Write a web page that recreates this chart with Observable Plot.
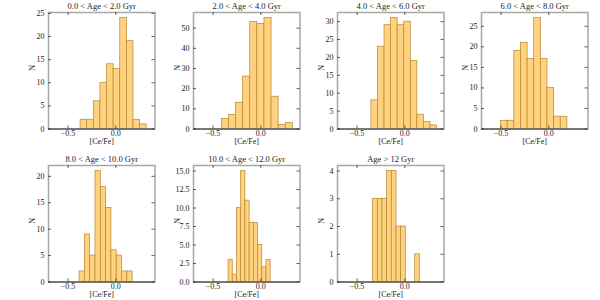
<!DOCTYPE html>
<html><head><meta charset="utf-8">
<script src="https://cdn.jsdelivr.net/npm/d3@7"></script>
<script src="https://cdn.jsdelivr.net/npm/@observablehq/plot@0.6"></script>
<style>
body{margin:0;background:#fff}
#chart{position:relative;width:600px;height:300px;overflow:hidden;background:#fff}
#chart svg{position:absolute}
</style></head><body><div id="chart"></div>
<script>
const titles = ["0.0 < Age < 2.0 Gyr", "2.0 < Age < 4.0 Gyr", "4.0 < Age < 6.0 Gyr", "6.0 < Age < 8.0 Gyr",
                "8.0 < Age < 10.0 Gyr", "10.0 < Age < 12.0 Gyr", "Age > 12 Gyr"];
const binStarts = [-0.369, -0.408, -0.350, -0.500, -0.380, -0.338, -0.332];
const binWidths = [0.0692, 0.0743, 0.0687, 0.0694, 0.0556, 0.0441, 0.0489];
const counts0 = [2, 2, 6, 10, 14, 13, 24, 19, 2, 1];
const counts1 = [5, 7, 13, 26, 53, 52, 55, 16, 2, 3];
const counts2 = [8, 23, 29, 31, 29, 30, 19, 4, 2, 1];
const counts3 = [2, 2, 19, 21, 17, 27, 17, 10, 3, 3];
const counts4 = [2, 9, 5, 21, 18, 14, 6, 5, 2, 2];
const counts5 = [3, 1, 10, 15, 11, 8, 8, 5, 2, 3];
const counts6 = [3, 3, 3, 4, 4, 2, 2, 0, 0, 1];
const allCounts = [counts0, counts1, counts2, counts3, counts4, counts5, counts6];
const yTicks = [[0,5,10,15,20,25],[0,10,20,30,40,50],[0,5,10,15,20,25,30],[0,5,10,15,20,25],
                [0,5,10,15,20],[0,2.5,5,7.5,10,12.5,15],[0,1,2,3,4]];
const xTicks = [-0.5, 0.0];
const xLabel = "[Ce/Fe]";
const yLabel = "N";
const xDomain = [-0.705, 0.41];

const frameLefts = [48, 193, 337, 481, 48, 193, 337];
const frameTops = [12, 12, 12, 12, 165, 165, 165];
const ML = 34, MR = 6, MT = 14, MB = 22, FW = 106.5, FH = 116.5;

const chart = document.getElementById("chart");
allCounts.forEach((c, p) => {
  const bins = c.map((n, i) => ({x1: binStarts[p] + i * binWidths[p], x2: binStarts[p] + (i + 1) * binWidths[p], y1: 0, y2: n}));
  const yt = yTicks[p];
  const fmtY = p === 5 ? d3.format(".1f") : d3.format("d");
  const svg = Plot.plot({
    width: ML + FW + MR, height: MT + FH + MB,
    marginLeft: ML, marginRight: MR, marginTop: MT, marginBottom: MB,
    style: {fontFamily: '"Liberation Serif", serif', fontSize: "8px", color: "#222", background: "transparent", overflow: "visible"},
    x: {domain: xDomain},
    y: {domain: [0, d3.max(c) * 1.05]},
    marks: [
      Plot.rect(bins, {x1: "x1", x2: "x2", y1: "y1", y2: "y2", fill: "#ffd280", stroke: "#b8862e", strokeWidth: 0.7}),
      Plot.frame({stroke: "#a8a8a8", strokeWidth: 1.5}),
      Plot.ruleY([0], {stroke: "#333", strokeWidth: 1}),
      Plot.tickX(xTicks, {x: d => d, insetTop: FH - 3, stroke: "#333", strokeWidth: 0.8}),
      Plot.tickX(xTicks, {x: d => d, insetBottom: FH - 3, stroke: "#333", strokeWidth: 0.8}),
      Plot.tickY(yt, {y: d => d, insetRight: FW - 3, stroke: "#333", strokeWidth: 0.8}),
      Plot.tickY(yt, {y: d => d, insetLeft: FW - 3, stroke: "#333", strokeWidth: 0.8}),
      Plot.axisX(xTicks, {tickSize: 0, tickPadding: 1.5, tickFormat: d3.format(".1f"), label: null}),
      Plot.axisY(yt, {tickSize: 0, tickPadding: 4, tickFormat: fmtY, label: null}),
      Plot.text([titles[p]], {frameAnchor: "top", dy: -6, lineAnchor: "middle", fontSize: 8.5}),
      Plot.text([yLabel], {frameAnchor: "left", dx: -16, rotate: -90, lineAnchor: "middle"}),
      Plot.text([xLabel], {frameAnchor: "bottom", dy: 12.5, lineAnchor: "middle"})
    ]
  });
  svg.style.left = (frameLefts[p] - ML) + "px";
  svg.style.top = (frameTops[p] - MT) + "px";
  chart.appendChild(svg);
});
</script></body></html>
